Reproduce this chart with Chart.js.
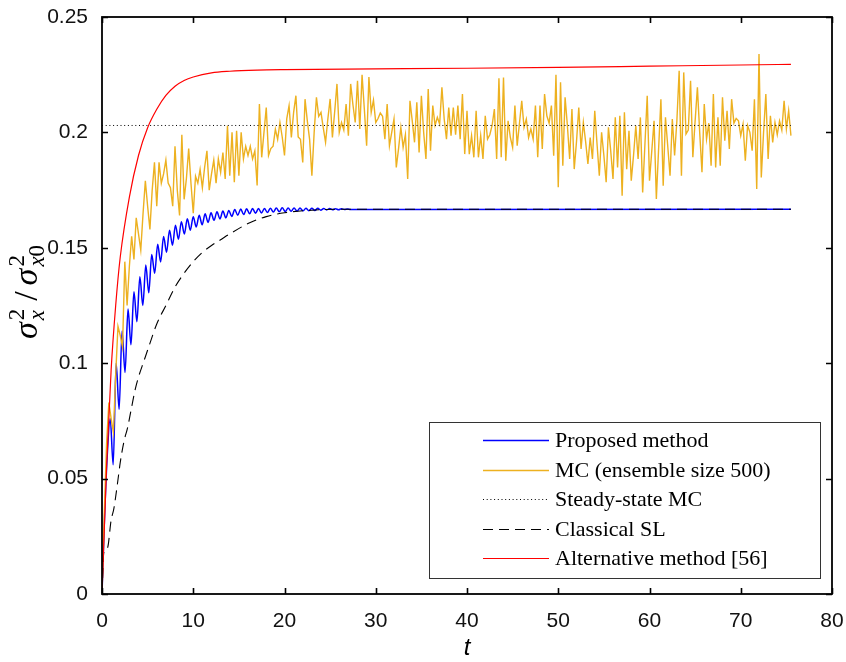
<!DOCTYPE html>
<html>
<head>
<meta charset="utf-8">
<script src="https://cdn.jsdelivr.net/npm/chart.js@4.4.1/dist/chart.umd.min.js"></script>
<style>
  html, body { margin: 0; padding: 0; background: #fff; }
</style>
</head>
<body>
<canvas id="myChart" width="846" height="662"></canvas>
<script>
// axis ticks
const xTicks = [0, 10, 20, 30, 40, 50, 60, 70, 80]
const yTicks = [0, 0.05, 0.1, 0.15, 0.2, 0.25]
const yTickLabels = ['0', '0.05', '0.1', '0.15', '0.2', '0.25']

const tEnd = 75.5

// Proposed method: start, then alternating peaks/troughs every propStep
const propStart = 0.25
const propStep = 0.325
const proposed = [
  0.030, 0.060, 0.076, 0.056, 0.100, 0.080, 0.114, 0.096, 0.1235, 0.108,
  0.131, 0.118, 0.1375, 0.125, 0.1425, 0.1305, 0.1471, 0.139, 0.1515, 0.1439,
  0.1549, 0.1481, 0.1576, 0.1511, 0.1598, 0.1537, 0.1613, 0.156, 0.1626, 0.1576,
  0.1635, 0.159, 0.1641, 0.160, 0.1647, 0.161, 0.1652, 0.1619, 0.1656, 0.1625,
  0.1659, 0.163, 0.1662, 0.1636, 0.1666, 0.1641, 0.1668, 0.1644, 0.1669, 0.1647,
  0.167, 0.165, 0.167, 0.1651, 0.167, 0.1653, 0.1671, 0.1655, 0.1672, 0.1656,
  0.1673, 0.1657, 0.1672, 0.1658, 0.1672, 0.1659, 0.1672, 0.166, 0.1671, 0.1661,
  0.1671, 0.1662, 0.1671, 0.1663, 0.167, 0.1664, 0.167, 0.1665, 0.1669, 0.1665,
  0.1669, 0.1666, 0.1668, 0.1666
]
const proposedEnd = 0.1667

// MC (ensemble size 500), sampled every mcStep
const mcStep = 0.25
const mc = [
  0, 0.035, 0.065, 0.083, 0.076, 0.070, 0.095, 0.116, 0.112, 0.107,
  0.144, 0.125, 0.142, 0.155, 0.145, 0.163, 0.156, 0.149, 0.165, 0.179,
  0.168, 0.158, 0.175, 0.187, 0.168, 0.187, 0.178, 0.182, 0.188, 0.178,
  0.176, 0.168, 0.194, 0.175, 0.164, 0.199, 0.171, 0.180, 0.193, 0.178,
  0.165, 0.181, 0.178, 0.184, 0.176, 0.185, 0.192, 0.175, 0.182, 0.188,
  0.178, 0.1885, 0.1827, 0.1913, 0.1798, 0.2029, 0.1812, 0.200, 0.1784, 0.2007,
  0.1812, 0.200, 0.1885, 0.194, 0.190, 0.194, 0.1885, 0.192, 0.177, 0.2123,
  0.1892, 0.200, 0.2108, 0.190, 0.193, 0.194, 0.2014, 0.197, 0.2043, 0.198,
  0.190, 0.206, 0.2116, 0.1978, 0.2087, 0.2159, 0.198, 0.197, 0.187, 0.2144,
  0.205, 0.197, 0.1812, 0.200, 0.2152, 0.207, 0.2087, 0.202, 0.1957, 0.2058,
  0.2145, 0.1978, 0.209, 0.221, 0.200, 0.2043, 0.201, 0.2123, 0.1986, 0.221,
  0.212, 0.2043, 0.2224, 0.2015, 0.225, 0.210, 0.1942, 0.224, 0.2087, 0.214,
  0.2043, 0.206, 0.2084, 0.207, 0.1971, 0.2123, 0.1942, 0.200, 0.2058, 0.1848,
  0.193, 0.2022, 0.1935, 0.199, 0.1798, 0.2137, 0.205, 0.1957, 0.213, 0.1913,
  0.2159, 0.200, 0.1885, 0.2188, 0.1921, 0.2116, 0.203, 0.2065, 0.2036, 0.2195,
  0.2058, 0.1971, 0.2108, 0.1986, 0.2108, 0.199, 0.2116, 0.197, 0.2166, 0.1906,
  0.2094, 0.1906, 0.1986, 0.1892, 0.2094, 0.1892, 0.1986, 0.1885, 0.2072, 0.1971,
  0.199, 0.203, 0.2101, 0.1885, 0.2234, 0.1892, 0.2238, 0.1877, 0.205, 0.1978,
  0.1935, 0.2116, 0.1942, 0.204, 0.2137, 0.2022, 0.2058, 0.1978, 0.2015, 0.1971,
  0.2116, 0.1892, 0.2116, 0.1928, 0.2166, 0.2072, 0.204, 0.2116, 0.1899, 0.225,
  0.1762, 0.2217, 0.1856, 0.2152, 0.203, 0.1885, 0.2101, 0.1841, 0.196, 0.2108,
  0.1928, 0.2043, 0.196, 0.1863, 0.1978, 0.1885, 0.2094, 0.195, 0.1812, 0.200,
  0.190, 0.1784, 0.2022, 0.192, 0.1798, 0.2065, 0.1848, 0.2072, 0.1726, 0.2087,
  0.1841, 0.2007, 0.1791, 0.190, 0.2029, 0.1885, 0.2065, 0.174, 0.195, 0.2159,
  0.1791, 0.192, 0.205, 0.1712, 0.193, 0.2144, 0.1769, 0.2065, 0.194, 0.1812,
  0.2058, 0.190, 0.205, 0.2267, 0.1812, 0.226, 0.1993, 0.201, 0.2224, 0.1892,
  0.205, 0.2195, 0.200, 0.1827, 0.2123, 0.1971, 0.204, 0.1856, 0.2166, 0.1848,
  0.2065, 0.1856, 0.2152, 0.1964, 0.2094, 0.1928, 0.2144, 0.204, 0.206, 0.205,
  0.1986, 0.2036, 0.1877, 0.203, 0.200, 0.1921, 0.2144, 0.1755, 0.234, 0.1805,
  0.200, 0.2166, 0.1885, 0.2072, 0.1957, 0.2043, 0.199, 0.205, 0.201, 0.2137,
  0.2015, 0.2094, 0.1986
]

const steadyMC = 0.203

// Classical SL
const slT = [0, 0.2, 0.6, 1.0, 1.3, 1.7, 2.0, 2.4, 2.8, 3.2, 3.6, 4.0, 4.6, 5.2, 6.0, 7.0, 8.0, 9.0, 10.0, 11.0, 12.0, 13.0, 14.0, 16.0, 18.0, 20.0, 23.0, 26.0, 30.0, tEnd]
const slV = [0, 0.018, 0.020, 0.032, 0.037, 0.048, 0.057, 0.066, 0.072, 0.080, 0.088, 0.094, 0.101, 0.108, 0.117, 0.125, 0.133, 0.139, 0.144, 0.148, 0.151, 0.1535, 0.156, 0.1605, 0.1635, 0.1652, 0.1663, 0.1667, 0.1667, 0.1667]

// Alternative method [56]
const altT = [0, 0.5, 1.0, 1.5, 2.0, 3.0, 4.0, 5.0, 6.0, 7.0, 8.0, 9.0, 10.0, 12.0, 14.0, 17.0, 20.0, 30.0, 40.0, 50.0, 60.0, 70.0, tEnd]
const altV = [0, 0.055, 0.097, 0.125, 0.146, 0.172, 0.190, 0.202, 0.210, 0.216, 0.220, 0.2225, 0.224, 0.2258, 0.2265, 0.227, 0.2272, 0.2275, 0.2278, 0.2282, 0.2287, 0.2292, 0.2295]

const xy = (ts, vs) => vs.map((v, i) => ({ x: ts[i], y: v }))

const proposedData = [{ x: 0, y: 0 }]
  .concat(proposed.map((v, i) => ({ x: propStart + i * propStep, y: v })))
  .concat([{ x: tEnd, y: proposedEnd }])
const mcData = mc.map((v, i) => ({ x: i * mcStep, y: v }))

const frameTicks = {
  id: 'frameTicks',
  afterDatasetsDraw(chart) {
    const { ctx, chartArea: a, scales } = chart
    ctx.save()
    ctx.strokeStyle = '#000'
    ctx.lineWidth = 1.6
    ctx.beginPath()
    xTicks.forEach(v => {
      const px = Math.round(scales.x.getPixelForValue(v)) + 0.5
      ctx.moveTo(px, a.bottom); ctx.lineTo(px, a.bottom - 6)
      ctx.moveTo(px, a.top); ctx.lineTo(px, a.top + 6)
    })
    yTicks.forEach(v => {
      const py = Math.round(scales.y.getPixelForValue(v)) + 0.5
      ctx.moveTo(a.left, py); ctx.lineTo(a.left + 6, py)
      ctx.moveTo(a.right, py); ctx.lineTo(a.right - 6, py)
    })
    ctx.stroke()
    ctx.lineWidth = 1.8
    ctx.strokeRect(a.left, a.top, a.right - a.left, a.bottom - a.top)
    ctx.restore()
  }
}

const boxLegend = {
  id: 'boxLegend',
  afterDraw(chart) {
    const { ctx, chartArea: a } = chart
    const w = 391, h = 156
    const left = a.right - 12 - w, top = a.bottom - 16 - h
    ctx.save()
    ctx.fillStyle = '#fff'
    ctx.fillRect(left, top, w, h)
    ctx.strokeStyle = '#333'
    ctx.lineWidth = 1
    ctx.strokeRect(left + 0.5, top + 0.5, w, h)
    ctx.font = '22px "Liberation Serif", "Times New Roman", serif'
    ctx.textBaseline = 'middle'
    ctx.fillStyle = '#000'
    chart.data.datasets.forEach((ds, i) => {
      const y = Math.round(top + 18 + i * 29.6) + 0.5
      ctx.strokeStyle = ds.borderColor
      ctx.lineWidth = ds.borderWidth
      ctx.setLineDash(ds.borderDash || [])
      ctx.beginPath()
      ctx.moveTo(left + 54, y); ctx.lineTo(left + 120, y)
      ctx.stroke()
      ctx.setLineDash([])
      ctx.fillText(ds.label, left + 126, y + 1)
    })
    ctx.restore()
  }
}

const axisTitles = {
  id: 'axisTitles',
  afterDraw(chart) {
    const { ctx, chartArea: a } = chart
    ctx.save()
    ctx.fillStyle = '#000'
    ctx.font = 'italic 24px "Liberation Sans", Arial, sans-serif'
    ctx.textAlign = 'center'
    ctx.textBaseline = 'middle'
    ctx.fillText('t', (a.left + a.right) / 2, 648)

    // sigma_x^2 / sigma_x0^2, rotated
    const serif = '"Liberation Serif", "Times New Roman", serif'
    const big = 'italic 34px ' + serif
    const bigUp = '34px ' + serif
    const smIt = 'italic 23px ' + serif
    const smUp = '23px ' + serif
    const parts = [
      { t: 'σ', f: big, pad: 1 },
      { stack: [{ t: '2', f: smUp }], sub: [{ t: 'x', f: smIt }], pad: 3 },
      { t: '/', f: bigUp, pad: 5 },
      { t: 'σ', f: big, pad: 1 },
      { stack: [{ t: '2', f: smUp }], sub: [{ t: 'x', f: smIt }, { t: '0', f: smUp }], pad: 2 }
    ]
    const runW = run => run.reduce((s, r) => { ctx.font = r.f; return s + ctx.measureText(r.t).width }, 0)
    const widths = parts.map(p => {
      if (p.t) { ctx.font = p.f; return ctx.measureText(p.t).width + 2 * (p.pad || 0) }
      return Math.max(runW(p.stack), runW(p.sub)) + 1 + (p.pad || 0)
    })
    const total = widths.reduce((s, w) => s + w, 0)
    ctx.translate(37, (a.top + a.bottom) / 2 - 14)
    ctx.rotate(-Math.PI / 2)
    ctx.textAlign = 'left'
    ctx.textBaseline = 'alphabetic'
    let x = -total / 2
    const drawRun = (run, x0, y0) => {
      let xx = x0
      run.forEach(r => { ctx.font = r.f; ctx.fillText(r.t, xx, y0); xx += ctx.measureText(r.t).width })
    }
    parts.forEach((p, i) => {
      if (p.t) { ctx.font = p.f; ctx.fillText(p.t, x + (p.pad || 0), 0) }
      else { drawRun(p.stack, x + 1, -13); drawRun(p.sub, x + 1, 7) }
      x += widths[i]
    })
    ctx.restore()
  }
}

new Chart(document.getElementById('myChart').getContext('2d'), {
  type: 'line',
  data: {
    datasets: [
      {
        label: 'Proposed method',
        data: proposedData,
        borderColor: '#0000ff',
        borderWidth: 1.5,
        cubicInterpolationMode: 'monotone',
        order: 5
      },
      {
        label: 'MC (ensemble size 500)',
        data: mcData,
        borderColor: '#edb120',
        borderWidth: 1.4,
        tension: 0,
        order: 4
      },
      {
        label: 'Steady-state MC',
        data: [{ x: 0, y: steadyMC }, { x: tEnd, y: steadyMC }],
        borderColor: '#000',
        borderWidth: 1,
        borderDash: [1, 2.7],
        order: 3
      },
      {
        label: 'Classical SL',
        data: xy(slT, slV),
        borderColor: '#000',
        borderWidth: 1.1,
        borderDash: [10, 6],
        cubicInterpolationMode: 'monotone',
        order: 2
      },
      {
        label: 'Alternative method [56]',
        data: xy(altT, altV),
        borderColor: '#ff0000',
        borderWidth: 1.2,
        cubicInterpolationMode: 'monotone',
        order: 1
      }
    ]
  },
  options: {
    responsive: false,
    animation: false,
    devicePixelRatio: 1,
    layout: { autoPadding: false, padding: { top: 17, right: 14, left: 0, bottom: 0 } },
    elements: { point: { radius: 0 }, line: { fill: false } },
    plugins: { legend: { display: false }, tooltip: { enabled: false } },
    scales: {
      x: {
        type: 'linear',
        min: 0,
        max: 80,
        afterBuildTicks: s => { s.ticks = xTicks.map(v => ({ value: v })) },
        afterFit: s => { s.height = 68; s.paddingLeft = 0; s.paddingRight = 0 },
        grid: { display: false, tickLength: 0 },
        border: { display: false },
        ticks: {
          padding: 15,
          color: '#111',
          maxRotation: 0,
          font: { family: '"Liberation Sans", Arial, sans-serif', size: 21 },
          callback: v => String(v)
        }
      },
      y: {
        type: 'linear',
        min: 0,
        max: 0.25,
        afterBuildTicks: s => { s.ticks = yTicks.map(v => ({ value: v })) },
        afterFit: s => { s.width = 102; s.paddingTop = 0; s.paddingBottom = 0 },
        grid: { display: false, tickLength: 0 },
        border: { display: false },
        ticks: {
          padding: 14,
          color: '#111',
          font: { family: '"Liberation Sans", Arial, sans-serif', size: 21 },
          callback: (v, i) => yTickLabels[i]
        }
      }
    }
  },
  plugins: [frameTicks, boxLegend, axisTitles]
})
</script>
</body>
</html>
